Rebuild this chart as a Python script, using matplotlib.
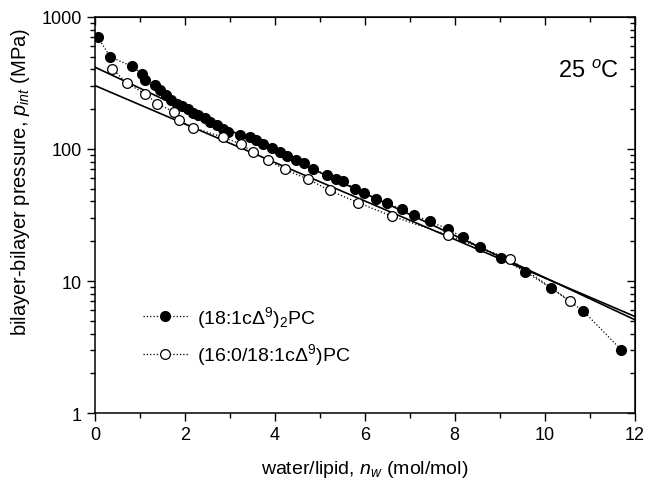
#!/usr/bin/env python3
"""
plot.py

Interbilayer pressure vs. water/lipid ratio for two PC lipids (25 C).
"""

import matplotlib
matplotlib.use('Agg')
import matplotlib.pyplot as plt
from matplotlib.ticker import MultipleLocator, LogLocator, NullFormatter

plt.rcParams['font.family'] = ['Liberation Sans', 'DejaVu Sans']
plt.rcParams['mathtext.fontset'] = 'custom'
plt.rcParams['mathtext.rm'] = 'Liberation Sans'
plt.rcParams['mathtext.it'] = 'Liberation Sans:italic'
plt.rcParams['mathtext.bf'] = 'Liberation Sans:bold'

# (18:1cD9)2PC, filled circles
dopc_nw = [0.07, 0.34, 0.82, 1.04, 1.12, 1.33, 1.45, 1.58, 1.70, 1.82,
           1.93, 2.08, 2.19, 2.30, 2.44, 2.56, 2.71, 2.86, 2.97, 3.22,
           3.44, 3.59, 3.74, 3.93, 4.11, 4.28, 4.48, 4.65, 4.85, 5.15,
           5.37, 5.52, 5.78, 5.98, 6.26, 6.50, 6.82, 7.10, 7.44, 7.84,
           8.18, 8.56, 9.02, 9.56, 10.15, 10.85, 11.70]
dopc_p = [700, 498, 423, 372, 335, 304, 278, 255, 236, 220,
          212, 199, 187, 180, 170, 160, 152, 142, 135, 128,
          123, 116, 109, 101, 94, 89, 82, 78, 70, 64,
          59, 57, 50, 46.5, 42, 38.8, 35, 31.6, 28.3, 24.8,
          21.4, 18.0, 14.9, 11.8, 8.8, 5.96, 3.02]

# (16:0/18:1cD9)PC, open circles
popc_nw = [0.38, 0.71, 1.12, 1.39, 1.75, 1.87, 2.19, 2.84, 3.24, 3.51,
           3.86, 4.22, 4.74, 5.22, 5.85, 6.60, 7.85, 9.23, 10.56]
popc_p = [406, 316, 260, 220, 191, 165, 145, 123, 109, 95,
          82, 70, 59, 48.5, 39.2, 31, 22.3, 14.6, 7.1]

# exponential fits (straight lines on the log axis), end points
fit_nw = [0, 12]
fit_dopc = [416, 5.1]
fit_popc = [302, 5.4]

fig = plt.figure(figsize=(6.45, 4.81), dpi=100)
ax = fig.add_axes([0.147, 0.139, 0.837, 0.824])

ax.plot(fit_nw, fit_dopc, '-', color='black', lw=1.2)
ax.plot(fit_nw, fit_popc, '-', color='black', lw=1.2)
ax.plot(dopc_nw, dopc_p, ':', color='black', lw=0.9, marker='o', ms=7,
        mfc='black', mec='black', label=r'(18:1c$\Delta^9$)$_2$PC')
ax.plot(popc_nw, popc_p, ':', color='black', lw=0.9, marker='o', ms=7,
        mfc='white', mec='black', mew=0.9,
        label=r'(16:0/18:1c$\Delta^9$)PC')

ax.set_yscale('log')
ax.set_xlim(0, 12)
ax.set_ylim(1, 1000)
ax.xaxis.set_major_locator(MultipleLocator(2))
ax.xaxis.set_minor_locator(MultipleLocator(1))
ax.yaxis.set_major_locator(LogLocator(base=10))
ax.yaxis.set_minor_locator(LogLocator(base=10, subs=range(2, 10)))
ax.yaxis.set_minor_formatter(NullFormatter())
ax.set_yticks([1, 10, 100, 1000])
ax.set_yticklabels(['1', '10', '100', '1000'])

for sp in ax.spines.values():
    sp.set_linewidth(1.1)
ax.tick_params(which='both', direction='out', top=False, right=False,
               labelsize=13, width=1.0)
ax.tick_params(which='major', length=6)
ax.tick_params(which='minor', length=3.5)

# top / right axes: inward ticks, no labels
top = ax.secondary_xaxis('top')
top.xaxis.set_major_locator(MultipleLocator(2))
top.xaxis.set_minor_locator(MultipleLocator(1))
top.tick_params(which='both', direction='in', labeltop=False, width=1.0)
top.tick_params(which='major', length=6)
top.tick_params(which='minor', length=3.5)
right = ax.secondary_yaxis('right')
right.yaxis.set_major_locator(LogLocator(base=10))
right.yaxis.set_minor_locator(LogLocator(base=10, subs=range(2, 10)))
right.tick_params(which='both', direction='in', labelright=False, width=1.0)
right.tick_params(which='major', length=6)
right.tick_params(which='minor', length=3.5)

ax.set_xlabel(r'water/lipid, $n_w$ (mol/mol)', fontsize=14)
ax.set_ylabel(r'bilayer-bilayer pressure, $p_{int}$ (MPa)', fontsize=14.5)
ax.xaxis.set_label_coords(0.5, -0.112)
ax.yaxis.set_label_coords(-0.117, 0.586)

ax.text(0.915, 0.864, r'25 $^o$C', transform=ax.transAxes, fontsize=17,
        ha='center', va='center')

ax.legend(loc='upper left', bbox_to_anchor=(0.075, 0.295), frameon=False,
          fontsize=14, numpoints=1, handlelength=2.3, handletextpad=0.45,
          labelspacing=0.6, borderaxespad=0)

fig.savefig('out.png', dpi=100)
